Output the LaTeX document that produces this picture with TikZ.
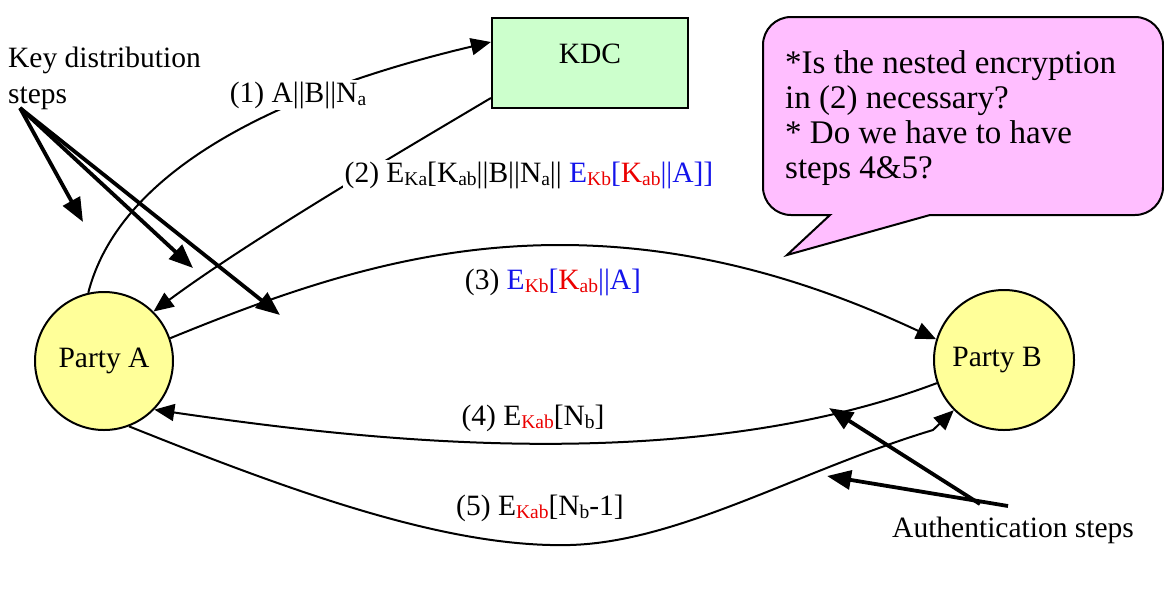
\documentclass[tikz,border=0pt]{standalone}
\usepackage{fontspec}
\setmainfont{Liberation Serif}
\usetikzlibrary{arrows.meta}
\definecolor{kdcgreen}{RGB}{204,255,204}
\definecolor{partyyellow}{RGB}{255,255,153}
\definecolor{notepink}{RGB}{255,190,255}
\definecolor{msgred}{RGB}{235,0,0}
\definecolor{msgblue}{RGB}{20,20,235}
\newcommand\sbx[1]{\raisebox{-3pt}{\fontsize{19.5}{19.5}\selectfont #1}}
\newcommand\bars{||}
\begin{document}
\begin{tikzpicture}[x=1pt,y=-1pt,
  txt/.style={font=\fontsize{29.5}{36}\selectfont, inner sep=1pt},
  party/.style={circle, draw, line width=2pt, fill=partyyellow, minimum size=138pt, inner sep=0pt, font=\fontsize{29.5}{36}\selectfont},
  kdcbox/.style={rectangle, draw, line width=2.2pt, fill=kdcgreen, minimum width=196pt, minimum height=90pt, text height=20pt, text depth=20pt, font=\fontsize{29.5}{36}\selectfont},
  msg/.style={line width=2pt, -{Triangle[length=20pt,width=17pt]}},
  pointer/.style={line width=3.8pt, -{Triangle[length=24pt,width=19pt]}},
  lbl/.style={txt, fill=white, inner sep=2pt}
]
\useasboundingbox (0,0) rectangle (1164,606);

% callout
\draw[fill=notepink, line width=2pt] (791,17) -- (1135,17) arc[start angle=270, end angle=360, radius=28]
  -- (1163,187) arc[start angle=0, end angle=90, radius=28]
  -- (930,215) -- (787,255) -- (830,215)
  -- (791,215) arc[start angle=90, end angle=180, radius=28]
  -- (763,45) arc[start angle=180, end angle=270, radius=28] -- cycle;
\node[anchor=north west, align=left, inner sep=0pt, font=\fontsize{33}{35}\selectfont] (note) at (785,50)
  {*Is the nested encryption\\in (2) necessary?\\* Do we have to have\\steps 4\&5?};

% main nodes
\node[party] (A) at (104,361) {Party A};
\node[party, minimum size=140pt] (B) at (1004,360) {\hspace{-14pt}Party B};
\node[kdcbox] (kdc) at (590,63) {KDC};

% messages
\draw[msg] (A.103) .. controls (125,150) and (330,80) .. ([yshift=21pt]kdc.west);
\draw[msg] ([yshift=-35pt]kdc.west) .. controls (400,152) and (250,240) .. (A.45);
\draw[msg] (A.19) .. controls (300,285) and (420,245) .. (560,245) .. controls (700,245) and (820,285) .. (B.163);
\draw[msg] (B.199) .. controls (680,480) and (350,438) .. (A.316);
\coordinate (k5) at (933,430);
\draw[msg] (A.291) .. controls (300,495) and (450,548) .. (570,545) .. controls (680,542) and (800,470) .. (k5) -- (B.225);

% message labels
\node[lbl] (m1) at (298,95) {(1) A\bars B\bars N\sbx{a}};
\node[lbl] (m2) at (529,175) {(2) E\sbx{Ka}[K\sbx{ab}\bars B\bars N\sbx{a}\bars{} \textcolor{msgblue}{E\sbx{\textcolor{msgred}{Kb}}[}\textcolor{msgred}{K\sbx{ab}}\textcolor{msgblue}{\bars A]]}};
\node[txt] (m3) at (553,282) {(3) \textcolor{msgblue}{E\sbx{\textcolor{msgred}{Kb}}[}\textcolor{msgred}{K\sbx{ab}}\textcolor{msgblue}{\bars A]}};
\node[txt] (m4) at (533,418) {(4) E\sbx{\textcolor{msgred}{Kab}}[N\sbx{b}]};
\node[txt] (m5) at (540,508) {(5) E\sbx{\textcolor{msgred}{Kab}}[N\sbx{b}-1]};

% key distribution pointers
\node[txt, anchor=north west, align=left, inner sep=0pt] (kdlabel) at (8,47) {Key distribution\\steps};
\coordinate (kd) at (20,108);
\coordinate (kd1) at (83,222);
\coordinate (kd2) at (193,268);
\coordinate (kd3) at (280,315);
\draw[pointer] (kd) -- (kd1);
\draw[pointer] (kd) -- (kd2);
\draw[pointer] (kd) -- (kd3);

% authentication pointers
\node[txt, anchor=base west, inner sep=0pt] (aulabel) at (892,537) {Authentication steps};
\coordinate (au1) at (980,504);
\coordinate (au2) at (1008,506);
\coordinate (at1) at (829,408);
\coordinate (at2) at (827,476);
\draw[pointer] (au1) -- (at1);
\draw[pointer] (au2) -- (at2);
\end{tikzpicture}
\end{document}
